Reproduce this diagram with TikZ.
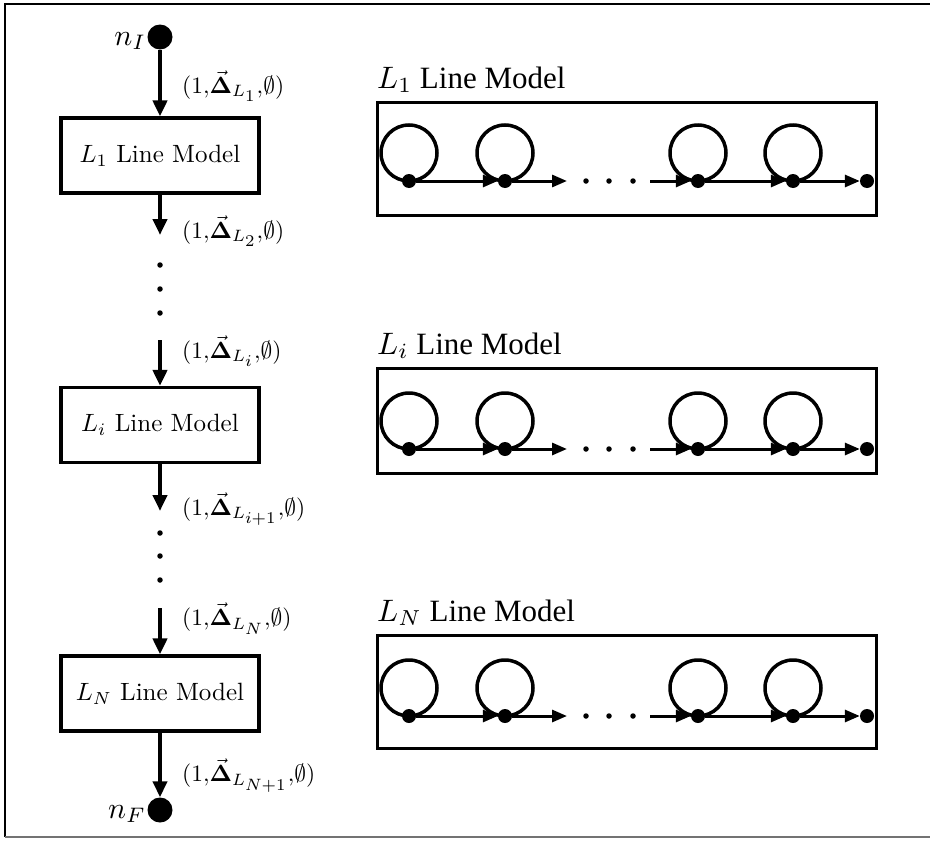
\documentclass[tikz,border=0pt]{standalone}
\usepackage{amsmath,amssymb}
\usepackage{graphicx}
\usepackage{fontspec}
\newfontfamily\tms{Liberation Serif}
\usetikzlibrary{arrows.meta}
\newcommand{\lmlabel}[1]{\scalebox{2.5}{$L_{#1}$ Line Model}}
\newcommand{\edgelab}[1]{\scalebox{2.35}{$(1{,}\vec{\boldsymbol\Delta}_{L_{\scriptstyle #1}}{,}\emptyset)$}}
\begin{document}
\begin{tikzpicture}[x=1pt,y=-1pt,
  lbox/.style={draw, line width=3.2pt, minimum width=198pt, minimum height=75pt, inner sep=0pt},
  bigdot/.style={circle, fill, minimum size=25pt, inner sep=0pt},
  sdot/.style={circle, fill, minimum size=14pt, inner sep=0pt},
  edot/.style={circle, fill, minimum size=5.5pt, inner sep=0pt},
  larrow/.style={line width=4pt, -{Triangle[width=14pt,length=16pt]}},
  rarrow/.style={line width=3pt, -{Triangle[width=12pt,length=15pt]}},
  loopst/.style={line width=3.5pt},
  elab/.style={anchor=west, inner sep=0pt},
  nlab/.style={inner sep=1pt},
  ttl/.style={anchor=base west, inner sep=0pt}]
\useasboundingbox (0,0) rectangle (930,846);
% outer frame
\draw[line width=2.5pt] (935,4) -- (5,4) -- (5,837);
\draw[line width=2.5pt, black!55] (5,837) -- (935,837);

% left column
\node[bigdot] (nI) at (160,37) {};
\node[nlab, anchor=east, yshift=-4pt] at (nI.west) {\scalebox{3}{$n_I$}};
\node[lbox] (B1) at (160,155.5) {\lmlabel{1}};
\node[lbox] (Bi) at (160,425) {\lmlabel{i}};
\node[lbox] (BN) at (160,693.5) {\lmlabel{N}};
\node[bigdot] (nF) at (160,810) {};
\node[nlab, anchor=east, yshift=-4pt] at (nF.west) {\scalebox{3}{$n_F$}};

\coordinate (e2) at (160,235);
\coordinate (s3) at (160,340);
\coordinate (e4) at (160,511);
\coordinate (s5) at (160,608);

\draw[larrow] (nI) -- (B1);
\draw[larrow] (B1) -- (e2);
\draw[larrow] (s3) -- (Bi);
\draw[larrow] (Bi) -- (e4);
\draw[larrow] (s5) -- (BN);
\draw[larrow] (BN) -- (nF);

\node[edot] (v1) at (160,265) {};
\node[edot] (v2) at (160,289) {};
\node[edot] (v3) at (160,313) {};
\node[edot] (v4) at (160,533) {};
\node[edot] (v5) at (160,556) {};
\node[edot] (v6) at (160,580) {};

\node[elab] (l1) at (182,86) {\edgelab{1}};
\node[elab] (l2) at (182,231) {\edgelab{2}};
\node[elab] (l3) at (182,351) {\edgelab{i}};
\node[elab] (l4) at (182,509) {\edgelab{i+1}};
\node[elab] (l5) at (182,619) {\edgelab{N}};
\node[elab] (l6) at (182,776) {\edgelab{N+1}};

% right panels
\foreach \t/\b/\ny/\tl/\lab in {102/215/181/88/1, 368/473/449/354/i, 635/748/716/621/N}{
  \node[ttl] (T\lab) at (377,\tl) {\scalebox{3.1}{\tms $L_{\lab}$ Line Model}};
  \draw[line width=3pt] (377,\t) rectangle (876,\b);
  \node[sdot] (r\lab a) at (409,\ny) {};
  \node[sdot] (r\lab b) at (505,\ny) {};
  \node[sdot] (r\lab c) at (698,\ny) {};
  \node[sdot] (r\lab d) at (793,\ny) {};
  \node[sdot] (r\lab e) at (867,\ny) {};
  \coordinate (r\lab x) at (567,\ny);
  \coordinate (r\lab y) at (650,\ny);
  \node[edot] (r\lab p) at (586,\ny) {};
  \node[edot] (r\lab q) at (609,\ny) {};
  \node[edot] (r\lab r) at (633,\ny) {};
  \foreach \k in {a,b,c,d}{
    \draw[loopst] (r\lab\k.center) ++(0,-28) circle[radius=28];
  }
  \draw[rarrow] (r\lab a) -- (r\lab b);
  \draw[rarrow] (r\lab b) -- (r\lab x);
  \draw[rarrow] (r\lab y) -- (r\lab c);
  \draw[rarrow] (r\lab c) -- (r\lab d);
  \draw[rarrow] (r\lab d) -- (r\lab e);
}
\end{tikzpicture}
\end{document}
